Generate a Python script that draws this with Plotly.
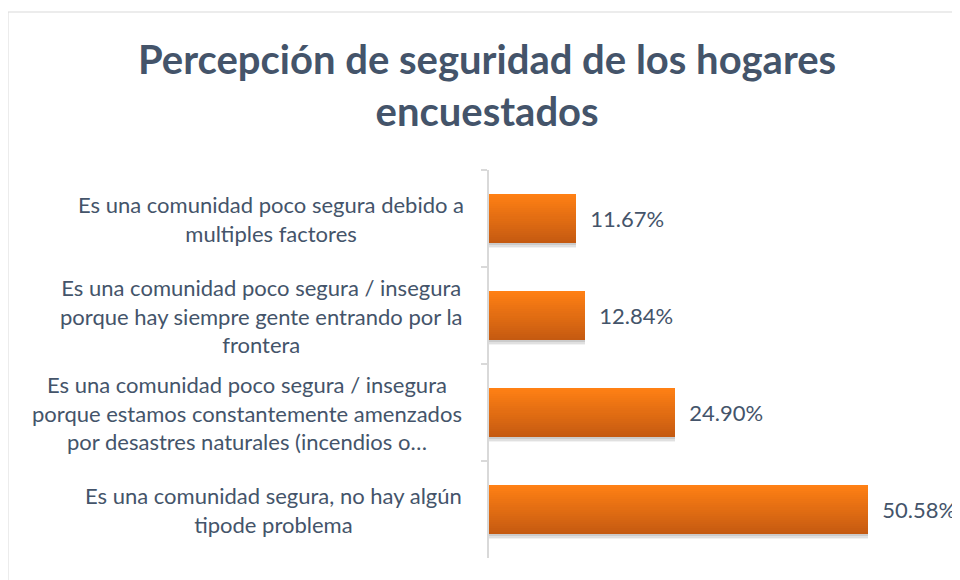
import plotly.graph_objects as go

categories = [
    "Es una comunidad poco segura debido a<br>multiples factores",
    "Es una comunidad poco segura / insegura<br>porque hay siempre gente entrando por la<br>frontera",
    "Es una comunidad poco segura / insegura<br>porque estamos constantemente amenzados<br>por desastres naturales (incendios o…",
    "Es una comunidad segura, no hay algún<br>tipode problema",
]
values = [11.67, 12.84, 24.90, 50.58]
title_text = "Percepción de seguridad de los hogares<br>encuestados"

TEXT = "#44546A"
FONT = "Lato"
top_rgb = (255, 128, 20)
bot_rgb = (197, 90, 17)

# plot area in screen pixels (page has 8px body margin)
PL, PR, PT, PB = 489, 938, 170, 558
PW, PH = PR - PL, PB - PT
BAND = PH / len(categories)

def px_x(p):
    return (p - PL) / PW

def px_y(p):
    return (PB - p) / PH

fig = go.Figure()
n = 24
bw = 0.51
ypos = list(range(len(categories)))

# soft shadow below the bars
for k, a in [(5, 0.05), (3.5, 0.07), (2, 0.09)]:
    fig.add_trace(go.Bar(
        x=values, y=ypos, orientation="h",
        width=bw, offset=-bw / 2 + k / BAND,
        marker=dict(color="rgba(0,0,0,%g)" % a, line=dict(width=0)),
        hoverinfo="skip", showlegend=False,
    ))

for i in range(n):
    t = i / (n - 1)
    c = tuple(int(round(top_rgb[k] + (bot_rgb[k] - top_rgb[k]) * t)) for k in range(3))
    fig.add_trace(go.Bar(
        x=values, y=ypos, orientation="h",
        width=bw / n + 0.002, offset=-bw / 2 + i * bw / n,
        marker=dict(color="rgb(%d,%d,%d)" % c, line=dict(width=0)),
        hoverinfo="skip", showlegend=False,
    ))
fig.add_trace(go.Bar(
    x=values, y=ypos, orientation="h",
    width=bw, marker=dict(color="rgba(0,0,0,0)", line=dict(width=0)),
    texttemplate="  %{x:.2f}%", textposition="outside",
    textfont=dict(family=FONT, size=22, color=TEXT),
    cliponaxis=False, showlegend=False,
))

centers = [271, 261, 247, 273]
for i, (cat, cx) in enumerate(zip(categories, centers)):
    fig.add_annotation(
        x=0, xref="paper", y=i, yref="y", xshift=cx - PL,
        text=cat, showarrow=False, xanchor="center", yanchor="middle",
        align="center", font=dict(family=FONT, size=22, color=TEXT),
    )

fig.add_annotation(
    x=0, xref="paper", xshift=487 - PL, y=px_y(85), yref="paper",
    text="<b>" + title_text + "</b>", showarrow=False,
    xanchor="center", yanchor="middle", align="center",
    font=dict(family=FONT, size=40, color=TEXT),
)

fig.add_shape(type="rect", xref="paper", yref="paper",
              x0=px_x(8), x1=px_x(975), y0=px_y(595), y1=px_y(12),
              line=dict(color="#D9D9D9", width=1), fillcolor="rgba(0,0,0,0)",
              layer="below")

fig.update_layout(
    width=960, height=580,
    margin=dict(l=PL - 8, r=960 - PR + 8, t=PT - 8, b=580 - PB + 8),
    paper_bgcolor="white", plot_bgcolor="white",
    barmode="overlay", bargap=0,
    xaxis=dict(range=[0, 60], showgrid=False, showticklabels=False,
               zeroline=False, showline=False, ticks=""),
    yaxis=dict(type="category", autorange="reversed", showgrid=False,
               showticklabels=False, showline=True, linecolor="#D9D9D9",
               linewidth=1.5, ticks="outside", tickson="boundaries",
               ticklen=6, tickcolor="#D9D9D9", tickwidth=1.5, zeroline=False),
)

fig.write_html("out.html")
